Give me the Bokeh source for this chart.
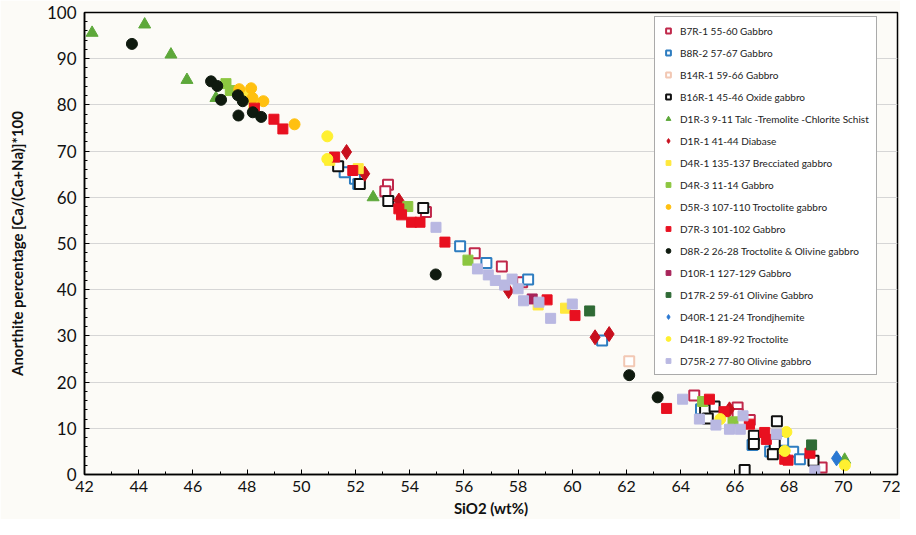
from bokeh.plotting import figure
from bokeh.models import Legend, LegendItem, SingleIntervalTicker
from bokeh.embed import file_html
from bokeh.resources import INLINE

# ---- data (SiO2 wt%, Anorthite %) ----
labels = [
    "B7R-1 55-60 Gabbro", "B8R-2 57-67 Gabbro", "B14R-1 59-66 Gabbro",
    "B16R-1 45-46 Oxide gabbro", "D1R-3 9-11 Talc -Tremolite -Chlorite Schist",
    "D1R-1 41-44 Diabase", "D4R-1 135-137 Brecciated gabbro", "D4R-3 11-14 Gabbro",
    "D5R-3 107-110 Troctolite gabbro", "D7R-3 101-102 Gabbro",
    "D8R-2 26-28 Troctolite & Olivine gabbro", "D10R-1 127-129 Gabbro",
    "D17R-2 59-61 Olivine Gabbro", "D40R-1 21-24 Trondjhemite",
    "D41R-1 89-92 Troctolite", "D75R-2 77-80 Olivine gabbro",
]

b7r_x = [53.2, 53.1, 54.6, 56.4, 57.4, 58.15, 64.5, 66.1, 66.1, 66.55, 69.2]
b7r_y = [62.7, 61.3, 56.8, 47.9, 45.0, 41.6, 17.1, 14.5, 13.1, 11.8, 1.5]

b8r_x = [51.6, 51.98, 52.1, 55.86, 56.83, 58.37, 61.1, 64.75, 66.65, 67.3, 67.78, 68.15, 68.4]
b8r_y = [65.4, 64.0, 62.9, 49.4, 45.8, 42.2, 29.0, 14.1, 6.4, 5.0, 7.3, 4.9, 3.3]

b14r_x = [62.1]
b14r_y = [24.5]

b16r_x = [51.36, 52.16, 53.21, 54.5, 64.9, 65.25, 65.0, 66.36, 66.7, 66.7, 67.55, 67.47, 67.4, 68.9]
b16r_y = [66.7, 62.9, 59.2, 57.7, 14.0, 14.7, 12.1, 1.0, 8.4, 6.6, 11.5, 6.6, 4.4, 3.0]

d1r3_x = [42.28, 44.22, 45.19, 45.78, 46.85, 52.65, 70.05]
d1r3_y = [95.6, 97.4, 90.9, 85.4, 81.5, 60.0, 3.2]

d1r1_x = [51.67, 52.34, 53.6, 57.65, 60.84, 61.36, 65.8]
d1r1_y = [69.8, 65.1, 59.3, 39.7, 29.7, 30.4, 14.1]

d4r1_x = [47.9, 48.25, 51.05, 52.1, 58.74, 59.75]
d4r1_y = [82.5, 80.0, 68.0, 66.2, 36.7, 36.0]

d4r3_x = [47.22, 47.38, 53.93, 56.15, 64.81, 65.93]
d4r3_y = [84.6, 83.1, 58.0, 46.4, 15.8, 11.4]

d5r3_x = [47.71, 48.15, 48.2, 48.6, 49.75]
d5r3_y = [83.4, 83.6, 81.5, 80.8, 75.8]

d7r3_x = [48.27, 48.99, 49.32, 51.23, 51.9, 53.6, 53.7, 54.07, 54.38, 55.3, 59.07, 60.1,
          63.48, 65.06, 65.6, 66.54, 67.1, 67.16, 67.84, 67.96, 68.77]
d7r3_y = [79.3, 76.9, 74.8, 68.7, 65.8, 57.5, 56.2, 54.6, 54.6, 50.3, 37.8, 34.4,
          14.3, 16.3, 13.6, 10.9, 9.1, 7.6, 3.3, 3.1, 4.6]

d8r2_x = [43.75, 46.67, 46.9, 47.04, 47.66, 47.68, 47.84, 48.21, 48.52, 54.96, 62.1, 63.15]
d8r2_y = [93.2, 85.1, 84.1, 81.1, 82.1, 77.7, 80.8, 78.4, 77.4, 43.3, 21.5, 16.7]

d10r1_x = [58.52]
d10r1_y = [38.0]

d17r2_x = [60.64, 68.83]
d17r2_y = [35.4, 6.4]

d40r1_x = [69.75]
d40r1_y = [3.5]

d41r1_x = [50.96, 50.96, 65.46, 67.9, 67.84, 70.06]
d41r1_y = [73.2, 68.3, 12.0, 9.2, 5.1, 2.0]

d75r2_x = [54.97, 56.9, 57.16, 57.78, 58.0, 58.2, 58.77, 59.2, 60.0, 64.07, 64.69, 65.3,
           65.8, 66.2, 66.3, 67.53, 68.95, 56.5, 57.5]
d75r2_y = [53.5, 43.2, 42.0, 42.3, 40.2, 37.6, 37.3, 33.8, 36.9, 16.3, 12.0, 10.7,
           9.8, 9.8, 12.7, 8.7, 0.8, 44.5, 41.0]

xs = [b7r_x, b8r_x, b14r_x, b16r_x, d1r3_x, d1r1_x, d4r1_x, d4r3_x, d5r3_x, d7r3_x,
      d8r2_x, d10r1_x, d17r2_x, d40r1_x, d41r1_x, d75r2_x]
ys = [b7r_y, b8r_y, b14r_y, b16r_y, d1r3_y, d1r1_y, d4r1_y, d4r3_y, d5r3_y, d7r3_y,
      d8r2_y, d10r1_y, d17r2_y, d40r1_y, d41r1_y, d75r2_y]

# ---- styles ----
markers = ["square", "square", "square", "square", "triangle", "diamond", "square", "square",
           "circle", "square", "circle", "square", "square", "diamond", "circle", "square"]
colors = ["#C0284B", "#2E7DC0", "#F2C8B4", "#111111", "#5DA83A", "#C8101E", "#FFE83C", "#8CC640",
          "#FFC010", "#E81020", "#0F1A0F", "#A8245A", "#2F6A35", "#2A78D2", "#FFF030", "#B9B8E2"]
hollow = [True, True, True, True] + [False] * 12
sizes = [10, 10, 10, 10, 12, 15, 10, 10, 11, 10, 11, 10, 10, 15, 11, 10]

BG = "#FCFBF7"
p = figure(width=900, height=519, x_range=(42, 72), y_range=(0, 100),
           output_backend="svg", toolbar_location=None,
           min_border_left=84, min_border_right=3, min_border_top=12, min_border_bottom=45,
           background_fill_color=BG, border_fill_color=BG)

items = []
for i in range(len(labels)):
    if hollow[i]:
        r = p.scatter(xs[i], ys[i], marker=markers[i], size=sizes[i], line_color=colors[i],
                      fill_color="white", line_width=2)
    else:
        r = p.scatter(xs[i], ys[i], marker=markers[i], size=sizes[i], line_color=colors[i],
                      fill_color=colors[i], line_width=1)
    items.append(LegendItem(label=labels[i], renderers=[r]))

legend = Legend(items=items, location=(570, 99), label_text_font="Lato",
                label_text_font_size="10px", label_text_color="#222222",
                glyph_height=13, glyph_width=12, label_height=13, spacing=9,
                padding=7, margin=0, label_standoff=6,
                border_line_color="#555555", border_line_width=1,
                background_fill_color="#FFFFFF", background_fill_alpha=1)
p.add_layout(legend, "center")

p.xaxis.ticker = SingleIntervalTicker(interval=2, num_minor_ticks=2)
p.yaxis.ticker = SingleIntervalTicker(interval=10, num_minor_ticks=5)

for ax in (p.xaxis[0], p.yaxis[0]):
    ax.axis_line_color = "black"
    ax.axis_line_width = 1.5
    ax.major_tick_in = 5
    ax.major_tick_out = 0
    ax.minor_tick_in = 3
    ax.minor_tick_out = 0
    ax.major_tick_line_color = "black"
    ax.minor_tick_line_color = "black"
    ax.major_label_text_font = "Lato"
    ax.major_label_text_color = "#111111"
    ax.axis_label_text_font = "Lato"
    ax.axis_label_text_font_style = "bold"
    ax.axis_label_text_color = "#111111"

p.xaxis.major_label_text_font_size = "16px"
p.yaxis.major_label_text_font_size = "17px"
p.xaxis.major_label_standoff = 6
p.yaxis.major_label_standoff = 8
p.xaxis.axis_label = "SiO2 (wt%)"
p.yaxis.axis_label = "Anorthite percentage [Ca/(Ca+Na)]*100"
p.xaxis.axis_label_text_font_size = "15px"
p.yaxis.axis_label_text_font_size = "15px"
p.xaxis.axis_label_standoff = 4
p.yaxis.axis_label_standoff = 18

p.xgrid.grid_line_color = None
p.ygrid.grid_line_color = "#D6D6D6"
p.ygrid.grid_line_width = 1
p.outline_line_color = "black"
p.outline_line_width = 1.5
p.outline_line_alpha = 1

open("out.html", "w").write(file_html(p, INLINE))
